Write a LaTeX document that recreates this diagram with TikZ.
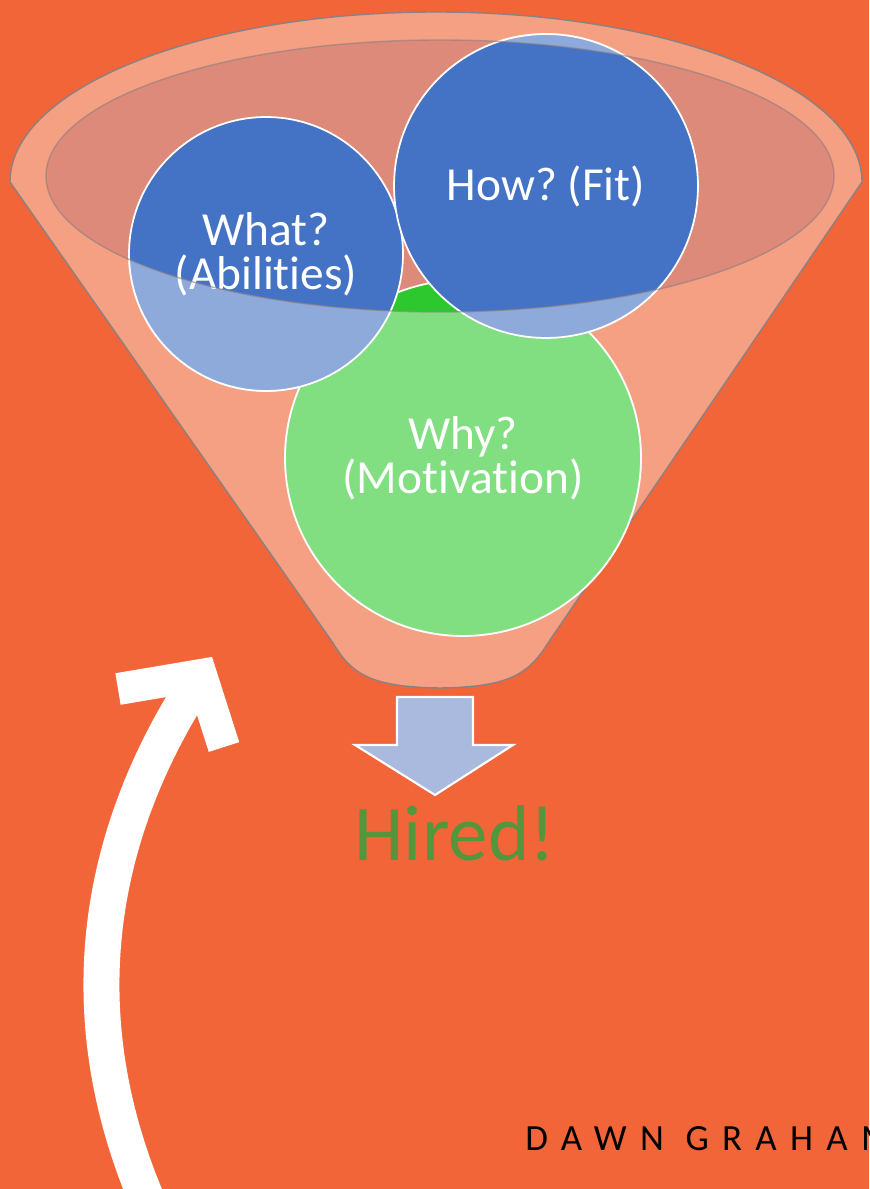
\documentclass[tikz,border=0pt]{standalone}
\usepackage{fontspec}
\setmainfont{Carlito}[Ligatures={NoCommon}]
\usetikzlibrary{positioning}
\frenchspacing

\definecolor{bgorange}{RGB}{242,101,57}
\definecolor{funnelfill}{RGB}{245,160,130}
\definecolor{mouthfill}{RGB}{222,138,122}
\definecolor{rimline}{RGB}{140,128,128}
\definecolor{deepblue}{RGB}{68,114,196}
\definecolor{deepgreen}{RGB}{45,200,45}
\definecolor{dropblue}{RGB}{170,185,222}
\definecolor{hiredgreen}{RGB}{84,150,60}

\tikzset{
x=0.02cm, y=-0.02cm, % one unit is one pixel of the picture, y runs down
bubble/.style={circle, draw=white, line width=1pt, inner sep=0pt, align=center, text=white, font=\fontsize{27}{25}\selectfont}, % the three question circles
funnel/.style={fill=funnelfill, draw=rimline, line width=0.8pt}, % body of the funnel
loop/.style={draw=white, line width=0.72cm}, % the big white return arrow
}

\begin{document}
\begin{tikzpicture}
\useasboundingbox (0,0) rectangle (869,1189);
\clip (0,0) rectangle (869,1189);
\fill[bgorange] (0,0) rectangle (869,1189);

% funnel
\draw[funnel] (10,182) -- (333,643) .. controls (352,675) and (372,687) .. (440,688)
    .. controls (508,687) and (528,675) .. (548,643) -- (862,182)
    arc[start angle=0, end angle=-180, x radius=426, y radius=170] -- cycle;
\coordinate (mouthc) at (440,176);
\fill[mouthfill] (mouthc) ellipse [x radius=394, y radius=136];

% circles
\node[bubble, fill=deepgreen, minimum size=7.12cm] (why) at (463,458) {Why?\\(Motivation)};
\node[bubble, fill=deepblue, minimum size=5.48cm] (what) at (266,254) {What?\\(Abilities)};
\node[bubble, fill=deepblue, minimum size=6.08cm] (how) at (546,186) {How? (Fit)};

% wash the parts that stick out of the mouth
\begin{scope}
\clip (what.center) circle (2.76cm) (how.center) circle (3.06cm) (why.center) circle (3.58cm);
\fill[white, opacity=0.4, even odd rule] (0,0) rectangle (869,1189)
    (mouthc) ellipse [x radius=394, y radius=136];
\end{scope}
\draw[rimline, line width=0.8pt, opacity=0.6] (mouthc) ellipse [x radius=394, y radius=136];

% drop arrow and result
\coordinate (drop) at (435,697);
\draw[fill=dropblue, draw=white, line width=1.2pt] (397,697) -- (473,697) -- (473,745) -- (513,745)
    -- (435,795) -- (355,745) -- (397,745) -- cycle;
\node[anchor=base, inner sep=0pt, text=hiredgreen, font=\fontsize{45}{45}\selectfont] (hired) at (455,860) {Hired!};

% return arrow
\coordinate (loopstart) at (147,1200);
\coordinate (looptip) at (201,675);
\draw[loop] (loopstart) .. controls (75,1030) and (85,850) .. (looptip);
\draw[white, line width=0.64cm, line join=miter] (118,689) -- (looptip) -- (224,747);

\node[anchor=base west, inner sep=0pt, font=\fontsize{21}{21}\selectfont\addfontfeature{LetterSpace=36}] (author) at (525,1150) {DAWN GRAHAM};
\end{tikzpicture}
\end{document}
